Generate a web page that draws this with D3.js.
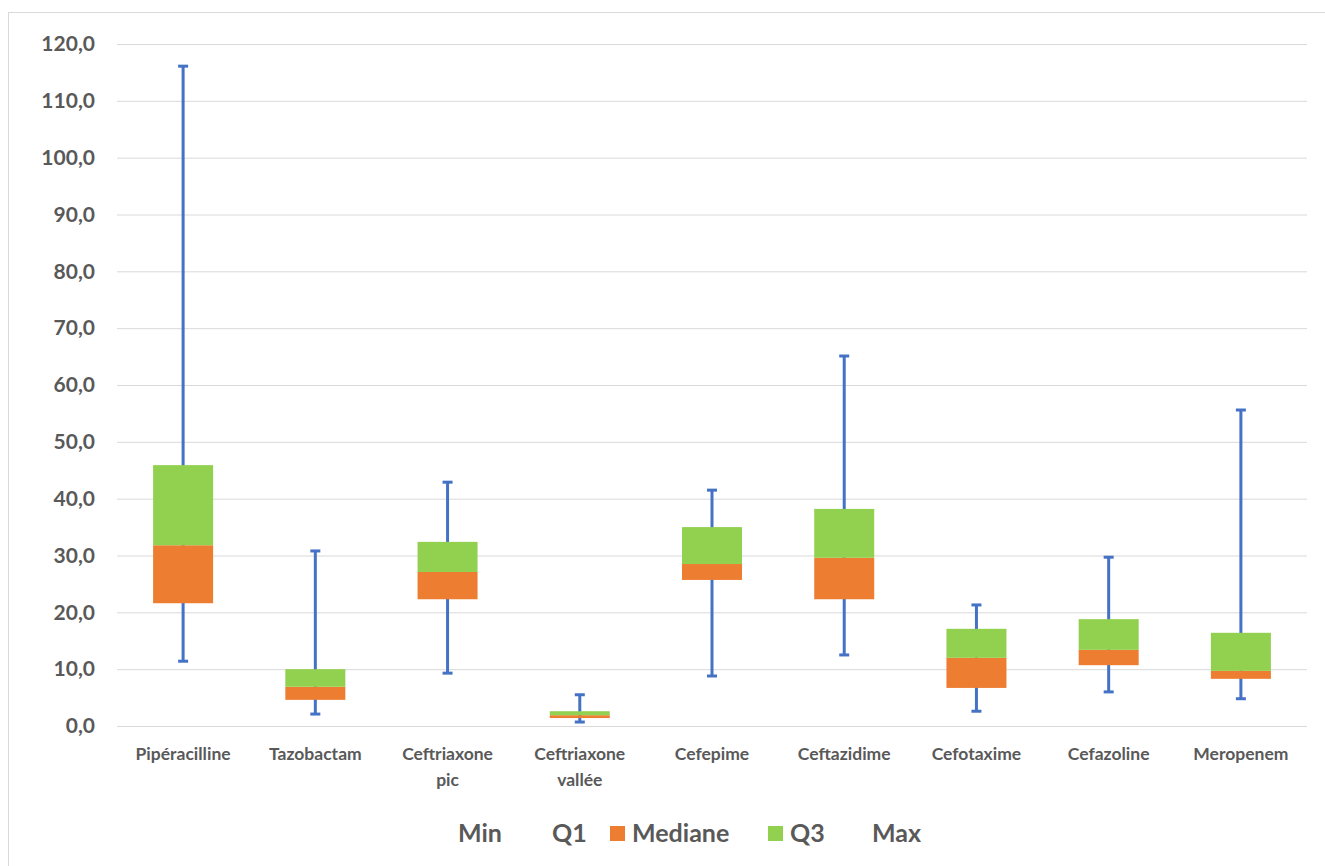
<!DOCTYPE html>
<html><head><meta charset="utf-8">
<script src="https://cdn.jsdelivr.net/npm/d3@7"></script>
<style>body{margin:0;background:#fff;font-family:Lato,sans-serif}</style>
</head><body><svg id="c" width="1325" height="866"></svg>
<script>
const categories = [["Pipéracilline"],["Tazobactam"],["Ceftriaxone","pic"],["Ceftriaxone","vallée"],["Cefepime"],["Ceftazidime"],["Cefotaxime"],["Cefazoline"],["Meropenem"]];
const minV    = [11.4, 2.1, 9.3, 0.7, 8.8, 12.5, 2.6, 6.0, 4.8];
const q1V     = [21.6, 4.6, 22.3, 1.4, 25.7, 22.3, 6.7, 10.7, 8.3];
const medianV = [31.8, 6.9, 27.1, 1.9, 28.5, 29.6, 12.0, 13.4, 9.7];
const q3V     = [45.9, 10.0, 32.4, 2.6, 35.0, 38.2, 17.1, 18.8, 16.4];
const maxV    = [116.1, 30.8, 42.9, 5.5, 41.5, 65.1, 21.3, 29.7, 55.6];
const yTicks  = d3.range(0, 121, 10);

const svg = d3.select("#c");
svg.append("rect").attr("x",8.5).attr("y",12.5).attr("width",1330).attr("height",870)
  .attr("fill","none").attr("stroke","#d9d9d9");

const x = d3.scaleBand().domain(d3.range(9)).range([117,1307]);
const y = d3.scaleLinear().domain([0,120]).range([726,44]);
const grey = "#595959";

const ya = svg.append("g").attr("transform","translate(117,0)")
  .call(d3.axisLeft(y).tickValues(yTicks).tickSize(-1190).tickFormat(d=>d.toFixed(1).replace(".",",")));
ya.select(".domain").remove();
ya.selectAll("line").attr("stroke","#d9d9d9");
ya.selectAll("text").attr("x",-22).attr("fill",grey).attr("font-size",21).attr("font-weight","bold")
  .attr("font-family","Lato,sans-serif");

const cx = i => x(i)+x.bandwidth()/2;
const g = svg.append("g");
d3.range(9).forEach(i=>{
  const c = cx(i), bw = 60;
  g.append("line").attr("x1",c).attr("x2",c).attr("y1",y(minV[i])).attr("y2",y(maxV[i]))
    .attr("stroke","#4472C4").attr("stroke-width",3);
  [minV[i],maxV[i]].forEach(v=>g.append("line").attr("x1",c-5).attr("x2",c+5).attr("y1",y(v)).attr("y2",y(v))
    .attr("stroke","#4472C4").attr("stroke-width",3));
  g.append("rect").attr("x",c-bw/2).attr("width",bw).attr("y",y(medianV[i])).attr("height",y(q1V[i])-y(medianV[i])).attr("fill","#ED7D31");
  g.append("rect").attr("x",c-bw/2).attr("width",bw).attr("y",y(q3V[i])).attr("height",y(medianV[i])-y(q3V[i])).attr("fill","#92D050");
  const t = svg.append("text").attr("x",c).attr("y",760).attr("text-anchor","middle")
    .attr("fill",grey).attr("font-size",17.5).attr("font-weight","bold");
  categories[i].forEach((s,k)=>t.append("tspan").attr("x",c).attr("dy",k?26:0).text(s));
});
svg.append("line").attr("x1",117).attr("x2",1307).attr("y1",726.5).attr("y2",726.5).attr("stroke","#d9d9d9");

const legend = [["Min",458,null],["Q1",552,null],["Mediane",632,"#ED7D31"],["Q3",790,"#92D050"],["Max",872,null]];
legend.forEach(([n,lx,col])=>{
  if(col) svg.append("rect").attr("x",lx-22).attr("y",826).attr("width",15).attr("height",15).attr("fill",col);
  svg.append("text").attr("x",lx).attr("y",842).attr("fill",grey).attr("font-size",25).attr("font-weight","bold").text(n);
});
</script></body></html>
